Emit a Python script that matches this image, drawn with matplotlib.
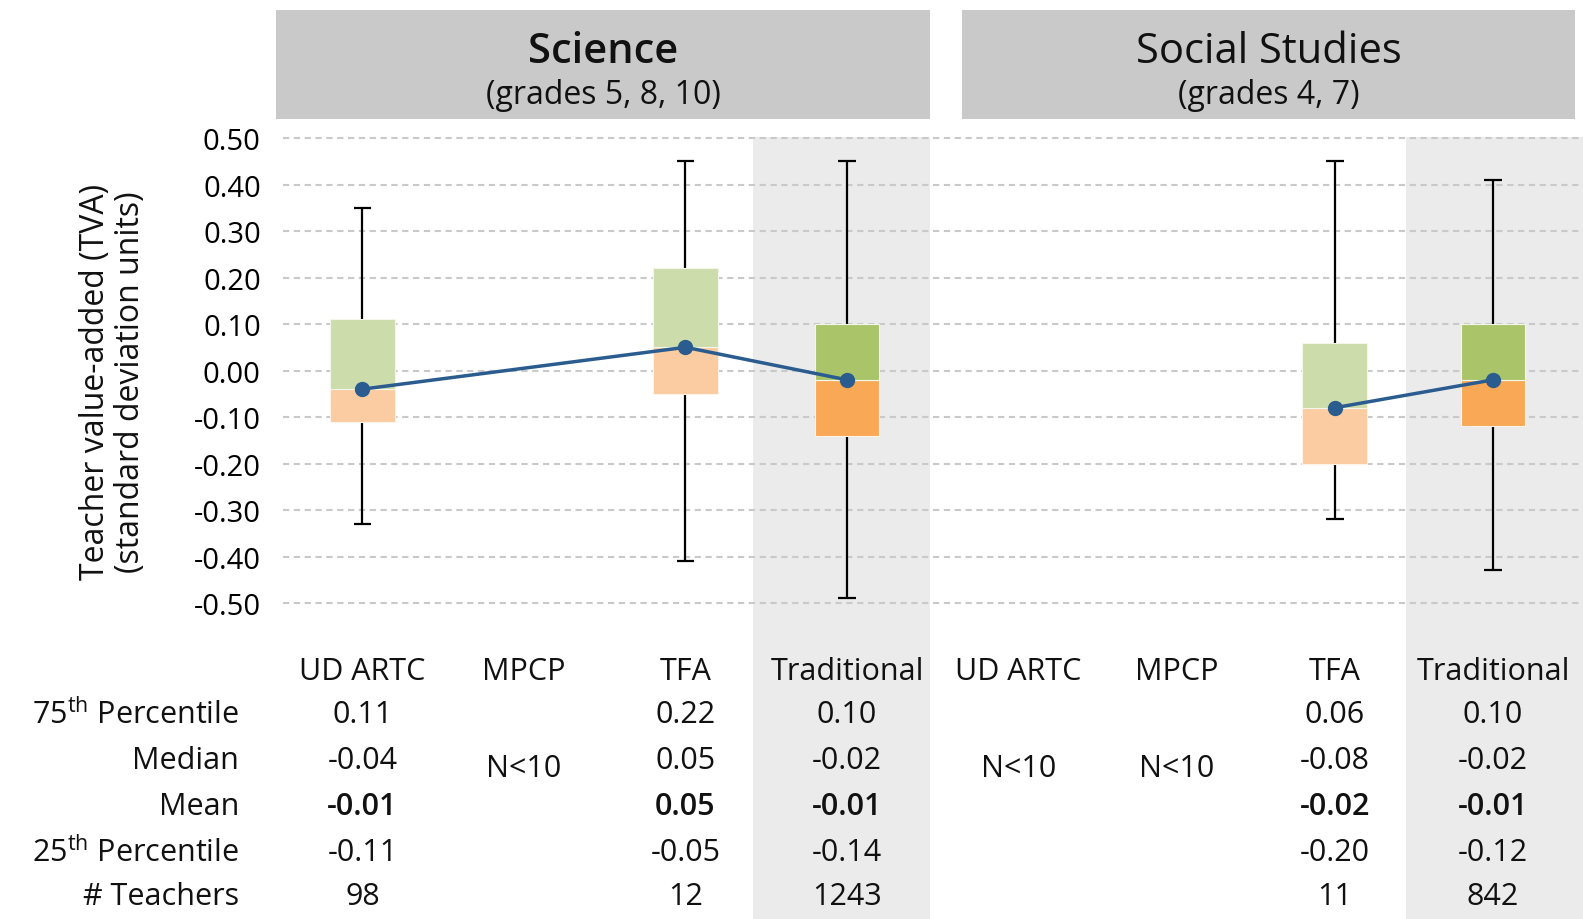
import numpy as np
import matplotlib.pyplot as plt
from matplotlib.patches import Rectangle
from matplotlib import transforms

plt.rcParams['font.family'] = ['Open Sans', 'DejaVu Sans']
plt.rcParams['mathtext.fontset'] = 'custom'
plt.rcParams['mathtext.rm'] = 'Open Sans'
plt.rcParams['text.color'] = '#111111'

# programmes and panels
groups = ['UD ARTC', 'MPCP', 'TFA', 'Traditional']
subjects = ['Science', 'Social Studies']
grades = ['(grades 5, 8, 10)', '(grades 4, 7)']
nan = np.nan

# Science (grades 5, 8, 10)
sci_q3 = [0.11, nan, 0.22, 0.10]
sci_med = [-0.04, nan, 0.05, -0.02]
sci_mean = [-0.01, nan, 0.05, -0.01]
sci_q1 = [-0.11, nan, -0.05, -0.14]
sci_n = [98, nan, 12, 1243]
sci_hi = [0.35, nan, 0.45, 0.45]
sci_lo = [-0.33, nan, -0.41, -0.49]

# Social Studies (grades 4, 7)
ss_q3 = [nan, nan, 0.06, 0.10]
ss_med = [nan, nan, -0.08, -0.02]
ss_mean = [nan, nan, -0.02, -0.01]
ss_q1 = [nan, nan, -0.20, -0.12]
ss_n = [nan, nan, 11, 842]
ss_hi = [nan, nan, 0.45, 0.41]
ss_lo = [nan, nan, -0.32, -0.43]

yticks = [0.5, 0.4, 0.3, 0.2, 0.1, 0.0, -0.1, -0.2, -0.3, -0.4, -0.5]
row_names = ['75$^{\\mathrm{th}}$ Percentile', 'Median', 'Mean',
             '25$^{\\mathrm{th}}$ Percentile', '# Teachers']

W, H = 1583, 920
fig = plt.figure(figsize=(W / 100, H / 100), dpi=100)
ax = fig.add_axes([283 / W, 0.3409, 1 - 283 / W, 0.5105])
ax.set_facecolor('none')
ax.set_xlim(-0.492, 7.557)
ax.set_ylim(-0.505, 0.505)
for s in ax.spines.values():
    s.set_visible(False)
ax.set_xticks([])
ax.set_yticks(yticks)
ax.set_yticklabels([f'{v:.2f}' if v != 0 else '0.00' for v in yticks], fontsize=21)
ax.tick_params(axis='y', length=0, pad=16)
for v in yticks:
    ax.axhline(v, color='#c9c9c9', lw=1.5, dashes=(3, 2.2), zorder=1)

fig.text(113 / W, 1 - 382 / H, 'Teacher value-added (TVA)\n(standard deviation units)',
         rotation=90, ha='center', va='center', multialignment='center',
         fontsize=23, linespacing=1.05)

blend = transforms.blended_transform_factory(ax.transData, fig.transFigure)

# panel positions on the x axis
pos = [np.arange(4) * 1.0, 4.06 + np.arange(4) * 0.98]
shade = [(2.418, 3.514), (6.462, 7.557)]
header = [(276, 930), (962, 1575)]
panels = [
    (sci_q3, sci_med, sci_mean, sci_q1, sci_n, sci_hi, sci_lo),
    (ss_q3, ss_med, ss_mean, ss_q1, ss_n, ss_hi, ss_lo),
]

light = ('#cddcab', '#fbcba1')
dark = ('#aac46a', '#f9a855')

top_frac = 1 - 138 / H
row_y = [715, 761, 807, 853, 897]

for p, (q3, med, mean, q1, n, hi, lo) in enumerate(panels):
    x = pos[p]
    # shaded column behind Traditional
    ax.add_patch(Rectangle((shade[p][0], 0), shade[p][1] - shade[p][0], top_frac,
                           transform=blend, facecolor='#ebebeb', edgecolor='none',
                           zorder=0, clip_on=False))
    # header box
    x0, x1 = header[p]
    fig.patches.append(Rectangle((x0 / W, 1 - 120 / H), (x1 - x0) / W, 109 / H,
                                 transform=fig.transFigure, facecolor='#c9c9c9',
                                 edgecolor='none'))
    fig.text((x0 + x1) / 2 / W, 1 - 52 / H, subjects[p], ha='center', va='center',
             fontsize=30, fontweight='semibold' if p == 0 else 'normal')
    fig.text((x0 + x1) / 2 / W, 1 - 95 / H, grades[p], ha='center', va='center',
             fontsize=23)

    for i in range(4):
        ax.text(x[i], 1 - 672 / H, groups[i], transform=blend, ha='center',
                va='center', fontsize=22)
        if np.isnan(med[i]):
            ax.text(x[i], 1 - 769 / H, 'N<10', transform=blend, ha='center',
                    va='center', fontsize=22)
            continue
        up, lowc = dark if i == 3 else light
        ax.vlines(x[i], lo[i], hi[i], color='black', lw=1.6, zorder=2)
        ax.hlines([lo[i], hi[i]], x[i] - 0.055, x[i] + 0.055, color='black', lw=1.6, zorder=2)
        ax.bar(x[i], med[i] - q1[i], bottom=q1[i], width=0.4, color=lowc,
               edgecolor='#fdf3e8', lw=0.8, zorder=3)
        ax.bar(x[i], q3[i] - med[i], bottom=med[i], width=0.4, color=up,
               edgecolor='#f3f7ea', lw=0.8, zorder=3)
        vals = [f'{q3[i]:.2f}', f'{med[i]:.2f}', f'{mean[i]:.2f}', f'{q1[i]:.2f}', f'{int(n[i])}']
        for r, v in enumerate(vals):
            ax.text(x[i], 1 - row_y[r] / H, v, transform=blend, ha='center', va='center',
                    fontsize=22, fontweight='semibold' if r == 2 else 'normal')

    # median line through the programmes with data
    ok = ~np.isnan(med)
    ax.plot(x[ok], np.array(med)[ok], color='#2b5c8f', lw=2.5, marker='o',
            markersize=10, zorder=4)

for r, name in enumerate(row_names):
    fig.text(239 / W, 1 - row_y[r] / H, name, ha='right', va='center', fontsize=22)

fig.savefig('out.png', dpi=100)
